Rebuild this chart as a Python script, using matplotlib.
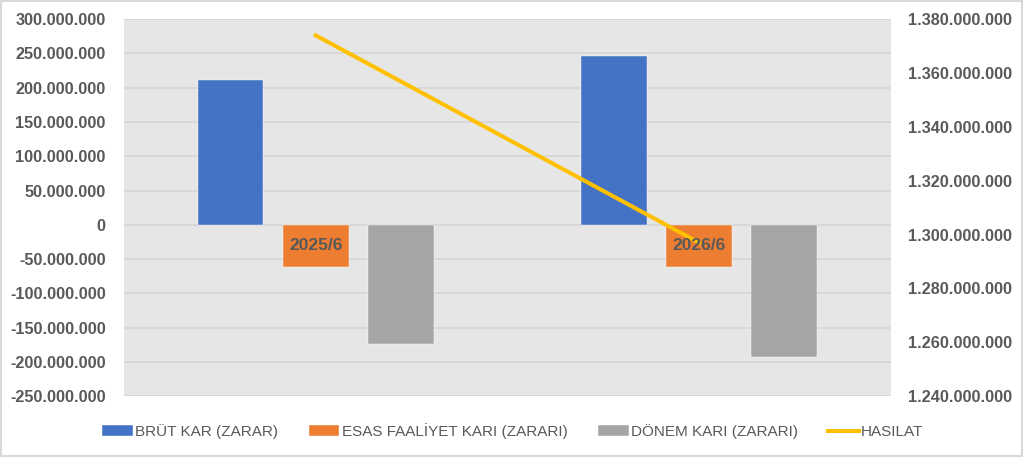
import matplotlib.pyplot as plt
import matplotlib.ticker as mticker
from matplotlib.patches import Rectangle
import numpy as np

periods = ["2025/6", "2026/6"]
brut_kar = [211_000_000, 246_000_000]
esas_faaliyet = [-61_000_000, -61_000_000]
donem_kari = [-174_000_000, -193_000_000]
hasilat = [1_374_000_000, 1_297_000_000]

series_names = ["BRÜT KAR (ZARAR)", "ESAS FAALİYET KARI (ZARARI)",
                "DÖNEM KARI (ZARARI)", "HASILAT"]

TEXT = "#595959"
plt.rcParams['font.family'] = ['Liberation Sans', 'DejaVu Sans']


def dotted(v, pos):
    s = f"{abs(int(round(v))):,}".replace(",", ".")
    return "-" + s if v < 0 else s


fig = plt.figure(figsize=(10.24, 4.57), dpi=100)
fig.patches.append(Rectangle((0.001, 0.002), 0.997, 0.995, transform=fig.transFigure,
                             fill=False, edgecolor="#d9d9d9", lw=1.5))
ax = fig.add_axes([0.121, 0.133, 0.749, 0.825])
ax.set_facecolor("#e6e6e6")

x = np.arange(len(periods))
w = 0.172
step = 0.222
bars = []
for k, (vals, col) in enumerate(zip([brut_kar, esas_faaliyet, donem_kari],
                                    ["#4472C4", "#ED7D31", "#A5A5A5"])):
    b = ax.bar(x + (k - 1) * step, vals, w, color=col, zorder=2,
               edgecolor="white", linewidth=0.3)
    bars.append(b)

ax.set_xlim(-0.5, 1.5)
ax.set_ylim(-250_000_000, 300_000_000)
ax.yaxis.set_major_locator(mticker.MultipleLocator(50_000_000))
ax.yaxis.set_major_formatter(mticker.FuncFormatter(dotted))
ax.grid(axis="y", color="#d6d6d6", lw=1.2, zorder=0)
ax.set_xticks([])
for s in ax.spines.values():
    s.set_visible(False)
ax.tick_params(axis="y", length=0, pad=13, labelsize=11.7, labelcolor=TEXT)
for t in ax.get_yticklabels():
    t.set_fontweight("bold")

ax2 = ax.twinx()
line, = ax2.plot(x, hasilat, color="#FFC000", lw=2.9, zorder=3)
ax2.set_ylim(1_240_000_000, 1_380_000_000)
ax2.yaxis.set_major_locator(mticker.MultipleLocator(20_000_000))
ax2.yaxis.set_major_formatter(mticker.FuncFormatter(dotted))
for s in ax2.spines.values():
    s.set_visible(False)
ax2.tick_params(axis="y", length=0, pad=12, labelsize=11.7, labelcolor=TEXT)
for t in ax2.get_yticklabels():
    t.set_fontweight("bold")

# category labels sit just under the zero line
for i, p in enumerate(periods):
    ax2.annotate(p, xy=(i, 0), xycoords=ax.transData, xytext=(0, -15),
                 textcoords="offset points", ha="center", va="center",
                 fontsize=12.5, fontweight="bold", color=TEXT, zorder=5)

handles = [bars[0], bars[1], bars[2], line]
fig.legend(handles, series_names, loc="center", bbox_to_anchor=(0.501, 0.057),
           ncol=4, frameon=False, fontsize=11, labelcolor=TEXT,
           handlelength=2.0, handleheight=0.7, handletextpad=0.15,
           columnspacing=2.0)

fig.savefig("out.png", dpi=100)
